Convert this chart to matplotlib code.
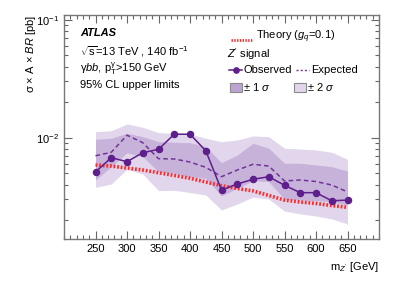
import numpy as np
import matplotlib
matplotlib.use("Agg")
import matplotlib.pyplot as plt
from matplotlib.lines import Line2D
from matplotlib.patches import Rectangle
from matplotlib.ticker import MultipleLocator, LogLocator, NullFormatter

plt.rcParams['font.family'] = ['Liberation Sans', 'DejaVu Sans']
plt.rcParams['mathtext.fontset'] = 'custom'
plt.rcParams['mathtext.rm'] = 'Liberation Sans'
plt.rcParams['mathtext.it'] = 'Liberation Sans:italic'
plt.rcParams['mathtext.bf'] = 'Liberation Sans:bold'

# ---- data ----
mass = [250, 275, 300, 325, 350, 375, 400, 425, 450, 475, 500, 525, 550, 575, 600, 625, 650]
observed = [5.12e-3, 6.77e-3, 6.26e-3, 7.46e-3, 7.97e-3, 1.07e-2, 1.07e-2, 7.76e-3, 3.60e-3,
            4.05e-3, 4.44e-3, 4.67e-3, 3.95e-3, 3.42e-3, 3.42e-3, 2.92e-3, 2.96e-3]
expected = [7.03e-3, 7.52e-3, 1.05e-2, 9.07e-3, 6.64e-3, 6.60e-3, 6.22e-3, 5.61e-3, 4.67e-3,
            5.32e-3, 5.95e-3, 5.75e-3, 4.30e-3, 4.38e-3, 4.25e-3, 3.97e-3, 3.47e-3]
band2_up = [1.124e-2, 1.146e-2, 1.307e-2, 1.225e-2, 1.102e-2, 1.089e-2, 1.075e-2, 9.88e-3, 9.25e-3,
            9.56e-3, 1.034e-2, 1.02e-2, 8.13e-3, 8.02e-3, 7.87e-3, 7.52e-3, 6.56e-3]
band1_up = [9.69e-3, 9.88e-3, 1.09e-2, 1.02e-2, 9.25e-3, 9.14e-3, 9.07e-3, 8.39e-3, 6.14e-3,
            7.13e-3, 8.97e-3, 8.13e-3, 6.07e-3, 6.07e-3, 5.87e-3, 5.68e-3, 5.22e-3]
band1_dn = [4.38e-3, 5.68e-3, 7.46e-3, 6.90e-3, 5.15e-3, 4.99e-3, 4.67e-3, 4.53e-3, 3.21e-3,
            3.73e-3, 4.32e-3, 4.24e-3, 3.01e-3, 2.96e-3, 2.92e-3, 2.87e-3, 2.69e-3]
band2_dn = [3.80e-3, 4.05e-3, 5.40e-3, 4.92e-3, 3.56e-3, 3.58e-3, 3.43e-3, 3.27e-3, 2.44e-3,
            2.74e-3, 3.14e-3, 3.02e-3, 2.39e-3, 2.26e-3, 2.17e-3, 2.05e-3, 1.86e-3]
theory = [5.87e-3, 5.75e-3, 5.53e-3, 5.32e-3, 5.05e-3, 4.78e-3, 4.53e-3, 4.21e-3, 3.92e-3,
          3.71e-3, 3.54e-3, 3.24e-3, 2.96e-3, 2.85e-3, 2.77e-3, 2.66e-3, 2.57e-3]

purple = '#5e1e8c'
purple_exp = '#6f3598'
c1 = '#c7b2d9'
c2 = '#e1d6ec'
red = '#ff2a2a'

fig = plt.figure(figsize=(3.99, 2.86), dpi=100)
ax = fig.add_axes([0.1604, 0.1633, 0.9499 - 0.1604, 0.9476 - 0.1633])

ax.fill_between(mass, band2_dn, band2_up, color=c2, lw=0, zorder=1)
ax.fill_between(mass, band1_dn, band1_up, color=c1, lw=0, zorder=2)
ax.plot(mass, theory, color=red, lw=2.6, ls=(0, (0.5, 0.5)), zorder=3)
ax.plot(mass, expected, color=purple_exp, lw=1.1, ls=(0, (3, 2)), zorder=4)
ax.plot(mass, observed, color=purple, lw=1.1, marker='o', ms=4.4, zorder=5)

ax.set_yscale('log')
ax.set_xlim(200, 700)
ax.set_ylim(1.377e-3, 0.1096)

ax.xaxis.set_major_locator(MultipleLocator(50))
ax.xaxis.set_minor_locator(MultipleLocator(10))
ax.yaxis.set_major_locator(LogLocator(base=10))
ax.yaxis.set_minor_locator(LogLocator(base=10, subs=np.arange(2, 10)))
ax.yaxis.set_minor_formatter(NullFormatter())
ax.tick_params(which='both', direction='in', top=True, right=True, labelsize=8, colors='#666666',
               labelcolor='black')
ax.tick_params(which='major', length=6, width=0.8)
ax.tick_params(which='minor', length=3, width=0.8)
ax.set_xticks([250, 300, 350, 400, 450, 500, 550, 600, 650])
for s in ax.spines.values():
    s.set_color('#777777')
    s.set_linewidth(1.0)

def fy(y):
    return 1 - y / 286.0

def fx(x):
    return x / 399.0

fig.text(fx(379), fy(267), r"m$_{Z'}$ [GeV]", ha='right', va='center', fontsize=8)
fig.text(fx(31), fy(15), 'σ × A × $BR$ [pb]', ha='center', va='top',
         rotation=90, fontsize=8)

fig.text(fx(80), fy(33), 'ATLAS', fontsize=8, fontweight='bold', fontstyle='italic', va='center')
fig.text(fx(80), fy(52), r'$\sqrt{\mathrm{s}}$=13 TeV , 140 fb$^{\mathrm{-1}}$', fontsize=8, va='center')
fig.text(fx(80), fy(69), r'$\mathrm{\gamma}bb$, p$_{\mathrm{T}}^{\mathrm{\gamma}}$>150 GeV', fontsize=8, va='center')
fig.text(fx(80), fy(85), '95% CL upper limits', fontsize=8, va='center')

# legend
fig.add_artist(Line2D([fx(231), fx(252)], [fy(40), fy(40)], color=red, lw=2.0, ls=(0, (0.5, 0.5))))
fig.text(fx(256), fy(37), r'Theory ($g_q$=0.1)', fontsize=8, va='center')
fig.text(fx(227), fy(54), r"$Z'$ signal", fontsize=8, va='center')
fig.add_artist(Line2D([fx(229), fx(242)], [fy(70), fy(70)], color=purple, lw=1.1))
fig.add_artist(Line2D([fx(235.5)], [fy(70)], color=purple, marker='o', ms=3.8, lw=0))
fig.text(fx(243), fy(70), 'Observed', fontsize=8, va='center')
fig.add_artist(Line2D([fx(296), fx(309)], [fy(70), fy(70)], color=purple_exp, lw=1.0, ls=(0, (1.5, 1.5))))
fig.text(fx(311), fy(70), 'Expected', fontsize=8, va='center')
fig.add_artist(Rectangle((fx(229.5), fy(92)), fx(12), 9 / 286, facecolor='#bda5d2',
                         edgecolor='#8a8a8a', lw=0.8))
fig.text(fx(243), fy(87), r'$\pm$ 1 $\sigma$', fontsize=8, va='center')
fig.add_artist(Rectangle((fx(294), fy(92)), fx(12), 9 / 286, facecolor=c2,
                         edgecolor='#8a8a8a', lw=0.8))
fig.text(fx(307), fy(87), r'$\pm$ 2 $\sigma$', fontsize=8, va='center')

fig.savefig('out.png', dpi=100)
